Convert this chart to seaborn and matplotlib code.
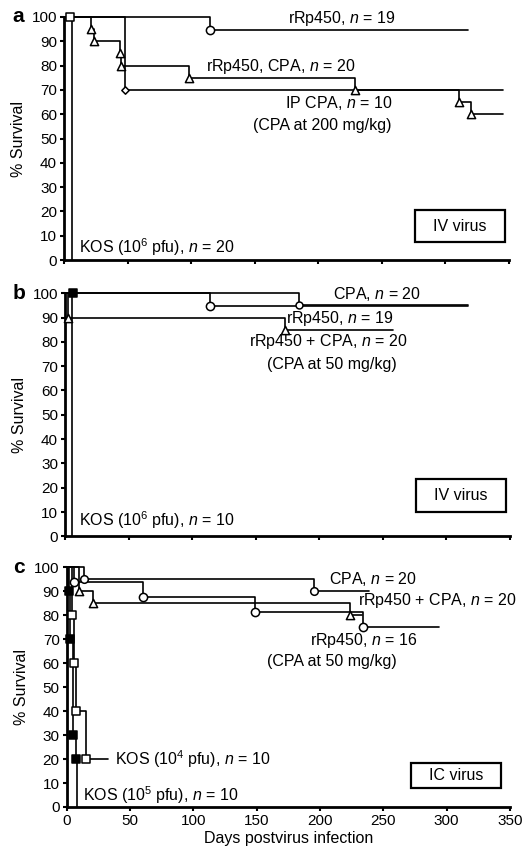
import matplotlib
matplotlib.use("Agg")
import matplotlib.pyplot as plt
from matplotlib.patches import Rectangle
import seaborn as sns

sns.set_theme(style="ticks")
plt.rcParams["font.family"] = ["Liberation Sans", "DejaVu Sans"]
plt.rcParams["mathtext.fontset"] = "custom"
plt.rcParams["mathtext.rm"] = "Liberation Sans"
plt.rcParams["mathtext.it"] = "Liberation Sans:italic"
for key in ["text.color", "axes.labelcolor", "xtick.color", "ytick.color", "axes.edgecolor"]:
    plt.rcParams[key] = "black"

# ---- panel a (IV virus, CPA 200 mg/kg) ----
a_rrp_t, a_rrp_s, a_rrp_end = [115], [94.7], 318
a_combo_t = [21, 23.5, 44, 45, 98, 229, 311, 320]
a_combo_s = [95, 90, 85, 80, 75, 70, 65, 60]
a_combo_end = 345
a_ipcpa_t, a_ipcpa_s, a_ipcpa_end = [48], [70], 345
a_kos_t, a_kos_s, a_kos_end = [6], [0], 6
a_kos_mark_t, a_kos_mark_s = [5], [100]

# ---- panel b (IV virus, CPA 50 mg/kg) ----
b_cpa_t, b_cpa_s, b_cpa_end = [184], [95], 317
b_rrp_t, b_rrp_s, b_rrp_end = [114], [94.7], 317
b_combo_t, b_combo_s, b_combo_end = [2, 173], [90, 85], 258
b_kos_t, b_kos_s, b_kos_end = [5.5], [0], 5.5
b_kos_mark_t, b_kos_mark_s = [6], [100]

# ---- panel c (IC virus) ----
c_cpa_t, c_cpa_s, c_cpa_end = [14, 195], [95, 90], 239
c_rrp_t, c_rrp_s, c_rrp_end = [6, 60, 149, 234], [93.75, 87.5, 81.25, 75], 294
c_combo_t, c_combo_s, c_combo_end = [10, 21, 224], [90, 85, 80], 233
c_kos4_t, c_kos4_s, c_kos4_end = [4, 5.5, 7, 15], [80, 60, 40, 20], 33
c_kos5_t, c_kos5_s, c_kos5_end = [2, 2.5, 5, 7, 8], [90, 70, 30, 20, 0], 8
c_kos5_mark_t, c_kos5_mark_s = [2, 2.5, 5, 7], [90, 70, 30, 20]

FS = 11.5


def km(ax, t, s, end, marker=None, mt=None, ms=None, size=30, filled=False):
    xs = [0] + list(t) + [end]
    ys = [100] + list(s) + [s[-1]]
    sns.lineplot(x=xs, y=ys, ax=ax, drawstyle="steps-post", estimator=None,
                 sort=False, color="black", lw=1.2, clip_on=False)
    if marker is None:
        return
    mt = t if mt is None else mt
    ms = s if ms is None else ms
    sns.scatterplot(x=mt, y=ms, ax=ax, marker=marker, s=size,
                    color="black" if filled else "white", edgecolor="black",
                    linewidth=1.1, zorder=4, clip_on=False)


def style(ax, letter, labels):
    ax.set_xlim(0, 350)
    ax.set_ylim(0, 100)
    ax.set_yticks(range(0, 101, 10))
    ax.set_xticks(range(0, 351, 50))
    if not labels:
        ax.set_xticklabels([])
    else:
        ax.set_xlabel("Days postvirus infection", fontsize=FS, labelpad=2)
    ax.set_ylabel("% Survival", fontsize=FS, labelpad=4)
    ax.tick_params(labelsize=11, length=3, width=1.5, pad=2)
    for side in ["left", "bottom"]:
        ax.spines[side].set_linewidth(2)
    sns.despine(ax=ax)
    top = ax.get_position().y1
    fig.text(0.024, top, letter, fontsize=15, fontweight="bold",
             va="center", ha="left")


def box(ax, x0, y0, w, h, label):
    ax.add_patch(Rectangle((x0, y0), w, h, fill=False, lw=1.6, ec="black"))
    ax.text(x0 + w / 2, y0 + h / 2, label, ha="center", va="center", fontsize=FS)


fig = plt.figure(figsize=(5.29, 8.5), dpi=100)
ax_a = fig.add_axes([0.121, 0.694, 0.841, 0.286])
ax_b = fig.add_axes([0.123, 0.369, 0.841, 0.286])
ax_c = fig.add_axes([0.126, 0.0506, 0.838, 0.282])

# panel a
km(ax_a, a_kos_t, a_kos_s, a_kos_end, "s", a_kos_mark_t, a_kos_mark_s, size=40)
km(ax_a, a_rrp_t, a_rrp_s, a_rrp_end, "o", size=35)
km(ax_a, a_combo_t, a_combo_s, a_combo_end, "^", size=35)
km(ax_a, a_ipcpa_t, a_ipcpa_s, a_ipcpa_end, "D", size=14)
style(ax_a, "a", False)
ax_a.text(176, 99.5, r"rRp450, $n$ = 19", fontsize=FS, va="center")
ax_a.text(112, 79.5, r"rRp450, CPA, $n$ = 20", fontsize=FS, va="center")
ax_a.text(174, 64.5, r"IP CPA, $n$ = 10", fontsize=FS, va="center")
ax_a.text(149, 55.5, "(CPA at 200 mg/kg)", fontsize=FS, va="center")
ax_a.text(12, 5.5, r"KOS (10$^6$ pfu), $n$ = 20", fontsize=FS, va="center")
box(ax_a, 276, 7.4, 71, 13.2, "IV virus")

# panel b
km(ax_b, b_kos_t, b_kos_s, b_kos_end, "s", b_kos_mark_t, b_kos_mark_s, size=40, filled=True)
km(ax_b, b_rrp_t, b_rrp_s, b_rrp_end, "o", size=35)
km(ax_b, b_cpa_t, b_cpa_s, b_cpa_end, "o", size=25)
km(ax_b, b_combo_t, b_combo_s, b_combo_end, "^", size=35)
style(ax_b, "b", False)
ax_b.text(211, 99.5, r"CPA, $n$ = 20", fontsize=FS, va="center")
ax_b.text(174, 89.5, r"rRp450, $n$ = 19", fontsize=FS, va="center")
ax_b.text(145, 80, r"rRp450 + CPA, $n$ = 20", fontsize=FS, va="center")
ax_b.text(159, 70.5, "(CPA at 50 mg/kg)", fontsize=FS, va="center")
ax_b.text(11, 6.8, r"KOS (10$^6$ pfu), $n$ = 10", fontsize=FS, va="center")
box(ax_b, 276, 10, 71, 13.5, "IV virus")

# panel c
km(ax_c, c_kos5_t, c_kos5_s, c_kos5_end, "s", c_kos5_mark_t, c_kos5_mark_s, size=40, filled=True)
km(ax_c, c_kos4_t, c_kos4_s, c_kos4_end, "s", size=40)
km(ax_c, c_cpa_t, c_cpa_s, c_cpa_end, "o", size=30)
km(ax_c, c_rrp_t, c_rrp_s, c_rrp_end, "o", size=35)
km(ax_c, c_combo_t, c_combo_s, c_combo_end, "^", size=35)
style(ax_c, "c", True)
ax_c.text(207, 95, r"CPA, $n$ = 20", fontsize=FS, va="center")
ax_c.text(230, 86, r"rRp450 + CPA, $n$ = 20", fontsize=FS, va="center")
ax_c.text(192, 69.5, r"rRp450, $n$ = 16", fontsize=FS, va="center")
ax_c.text(158, 60.5, "(CPA at 50 mg/kg)", fontsize=FS, va="center")
ax_c.text(38, 20, r"KOS (10$^4$ pfu), $n$ = 10", fontsize=FS, va="center")
ax_c.text(13, 5, r"KOS (10$^5$ pfu), $n$ = 10", fontsize=FS, va="center")
box(ax_c, 272, 8, 71, 10.5, "IC virus")

fig.savefig("out.png", dpi=100, facecolor="white")
